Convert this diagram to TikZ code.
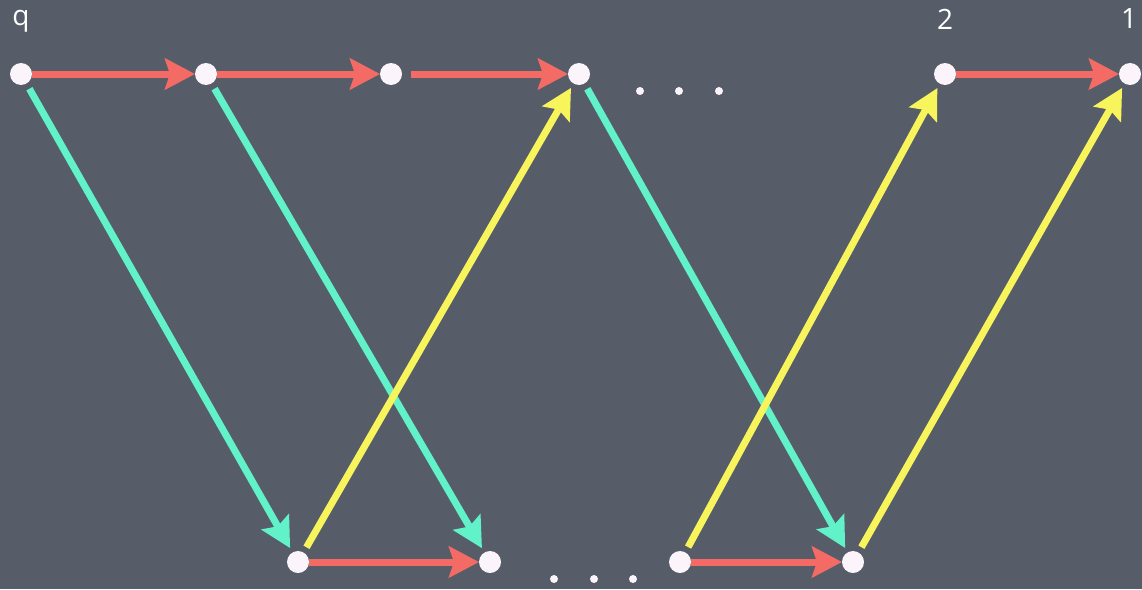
\documentclass[tikz,border=0pt]{standalone}
\usepackage{fontspec}
\setmainfont{Open Sans}
\usepackage{xcolor}
\usetikzlibrary{positioning,arrows.meta}
\definecolor{board}{HTML}{575D68}
\definecolor{vtx}{HTML}{FCF4FB}
\definecolor{fwd}{HTML}{F46B65}
\definecolor{down}{HTML}{62F2C9}
\definecolor{up}{HTML}{F8F45C}

\begin{document}
\begin{tikzpicture}[x=1pt,y=-1pt,line width=7pt,>={Stealth[length=30pt,width=31pt,inset=5pt]}]
\tikzstyle{v}=[circle,fill=vtx,minimum size=22pt,inner sep=0pt,outer sep=0pt]
\tikzstyle{pt}=[circle,fill=vtx,minimum size=8pt,inner sep=0pt]
\tikzstyle{lbl}=[text=white,font=\fontsize{28}{28}\selectfont]
\tikzstyle{diag}=[shorten <=6pt,shorten >=5pt]
\fill[board] (0,0) rectangle (1142,589);
% top row
\node[v] (t1) at (21,74) {};
\node[v] (t2) at (206,74) {};
\node[v] (t3) at (391,74) {};
\node[v] (t4) at (579,74) {};
\node[v] (t5) at (945,74) {};
\node[v] (t6) at (1130,74) {};
% bottom row
\node[v] (b1) at (298,562) {};
\node[v] (b2) at (490,562) {};
\node[v] (b3) at (680,562) {};
\node[v] (b4) at (853,562) {};
\node[lbl] (lq) at (21,21) {q};
\node[lbl] (l2) at (945,19) {2};
\node[lbl] (l1) at (1129,19) {1};
\foreach \x in {640,679,719} \node[pt] at (\x,91) {};
\foreach \x in {554,594,633} \node[pt] at (\x,579) {};
% arrows
\draw[->,fwd] (t1) -- (t2);
\draw[->,fwd] (t2) -- (t3);
\draw[->,fwd,shorten <=9pt] (t3) -- (t4);
\draw[->,fwd] (t5) -- (t6);
\draw[->,fwd] (b1) -- (b2);
\draw[->,fwd] (b3) -- (b4);
\draw[->,down,diag] (t1) -- (b1);
\draw[->,down,diag] (t2) -- (b2);
\draw[->,down,diag] (t4) -- (b4);
\draw[->,up,diag] (b1) -- (t4);
\draw[->,up,diag] (b3) -- (t5);
\draw[->,up,diag] (b4) -- (t6);
\end{tikzpicture}
\end{document}
